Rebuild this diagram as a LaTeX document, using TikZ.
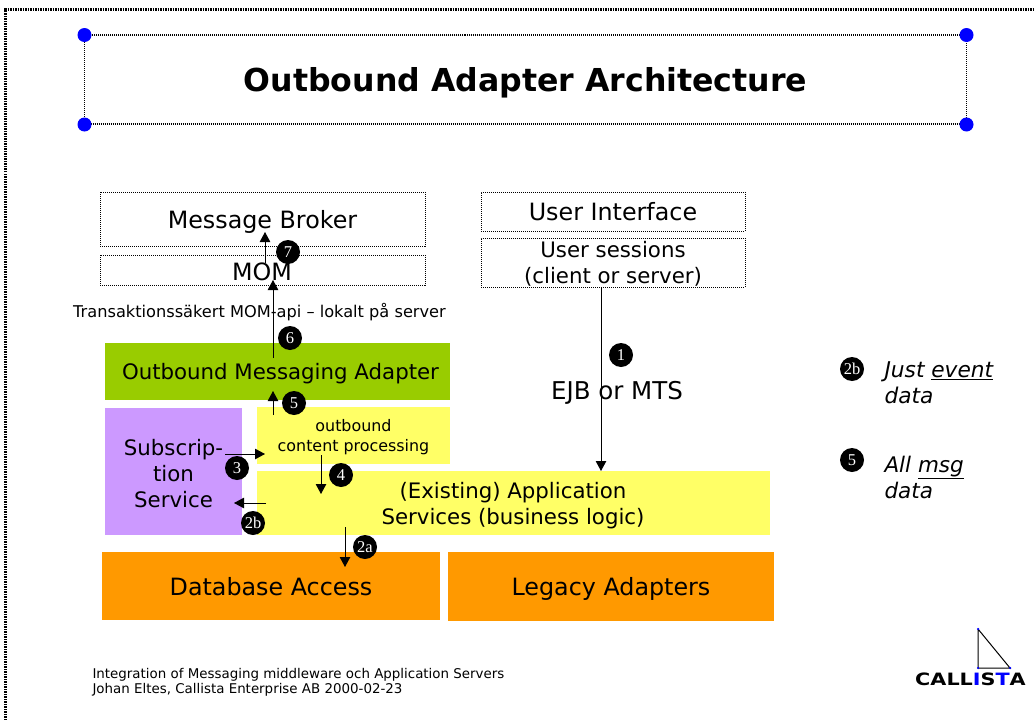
\documentclass[tikz,border=0pt]{standalone}
\usepackage{fontspec}
\setmainfont{DejaVu Sans}
\newfontfamily\numfont{Liberation Serif}
\usetikzlibrary{arrows.meta}
\usetikzlibrary{positioning}
\definecolor{frameblue}{RGB}{0,0,255}
\definecolor{adaptergreen}{RGB}{153,204,0}
\definecolor{subpurple}{RGB}{204,153,255}
\definecolor{appyellow}{RGB}{255,255,102}
\definecolor{dataorange}{RGB}{255,153,0}
\tikzset{flow/.style = {-{Triangle[length=10pt,width=10.5pt]}, line width=1pt}}
\tikzset{dotbox/.style = {draw, line width=1pt, dash pattern=on 1pt off 1pt, inner sep=0, outer sep=0, text depth=0pt}}
\tikzset{fillbox/.style = {inner sep=0, outer sep=0, text depth=0pt}}
\tikzset{bubble/.style = {circle, fill=black, text=white, inner sep=0, minimum size=24pt, font=\numfont\fontsize{16.5}{16.5}\selectfont}}
\tikzset{bluedot/.style = {circle, fill=frameblue, inner sep=0, minimum size=14pt}}
\tikzset{logodot/.style = {circle, fill=frameblue, inner sep=0, minimum size=2.5pt}}
\tikzset{big/.style = {font=\fontsize{23.8}{26}\selectfont}}
\tikzset{small/.style = {font=\fontsize{21.3}{26}\selectfont}}
\begin{document}
\begin{tikzpicture}[x=1pt, y=-1pt]
			\useasboundingbox (0,0) rectangle (1034,720);
			% frame and title
			\node (f0) at (5.5,720) {};
			\node (f1) at (5.5,9.5) {};
			\node (f2) at (1034,9.5) {};
			\draw [line width=3pt, dash pattern=on 1.5pt off 1pt] (f0.center) to (f1.center) to (f2.center);
			\node [dotbox, line width=1.3pt, minimum width=882, minimum height=89, font=\bfseries\fontsize{31.6}{32}\selectfont] (title) at (525.5,79.5) {Outbound Adapter Architecture};
			\node [bluedot] (t0) at (84.5,35) {};
			\node [bluedot] (t1) at (966.5,35) {};
			\node [bluedot] (t2) at (84.5,124.5) {};
			\node [bluedot] (t3) at (966.5,124.5) {};
			% dotted boxes
			\node [dotbox, big, minimum width=325, minimum height=54] (broker) at (262.5,219) {Message Broker};
			\node [dotbox, minimum width=325, minimum height=30] (mom) at (262.5,270) {};
			\node [big] (momtext) at (262,272) {MOM};
			\node [dotbox, big, minimum width=264, minimum height=39] (ui) at (613,211.5) {User Interface};
			\node [dotbox, small, minimum width=264, minimum height=49, align=center] (sessions) at (613,262.5) {User sessions\\(client or server)};
			\node [font=\fontsize{16.2}{16.2}\selectfont] (api) at (259.5,312) {Transaktionssäkert MOM-api -- lokalt på server};
			% filled boxes
			\node [fillbox, small, fill=adaptergreen, minimum width=345, minimum height=57] (adapter) at (277.5,371.5) {\phantom{i}Outbound Messaging Adapter};
			\node [fillbox, fill=subpurple, minimum width=137, minimum height=127] (subscr) at (173.5,471.5) {};
			\node [small, align=center] (subscrtext) at (173.5,473.5) {Subscrip-\\tion\\Service};
			\node [fillbox, fill=appyellow, minimum width=193, minimum height=57, align=center, font=\fontsize{15.9}{20}\selectfont] (content) at (353.5,435) {outbound\\content processing};
			\node [fillbox, fill=appyellow, minimum width=513, minimum height=64] (appbox) at (513.5,503) {};
			\node [small, align=center] (services) at (513,505.5) {(Existing) Application\\Services (business logic)};
			\node [fillbox, big, fill=dataorange, minimum width=338, minimum height=68] (dbase) at (271,586) {Database Access};
			\node [fillbox, big, fill=dataorange, minimum width=326, minimum height=69] (legacy) at (611,586.5) {Legacy Adapters};
			\node [font=\fontsize{24.5}{26}\selectfont] (ejb) at (617,393) {EJB or MTS};
			% arrows
			\node (a1) at (601,287) {};
			\node (b1) at (601,471) {};
			\node (a2a) at (345,527) {};
			\node (b2a) at (345,567) {};
			\node (a2b) at (266,503) {};
			\node (b2b) at (234,503) {};
			\node (a3) at (225,454) {};
			\node (b3) at (265,454) {};
			\node (a4) at (321,455) {};
			\node (b4) at (321,494) {};
			\node (a5) at (273,415) {};
			\node (b5) at (273,391) {};
			\node (a6) at (273,358) {};
			\node (b6) at (273,280) {};
			\node (a7) at (265,263) {};
			\node (b7) at (265,232) {};
			\draw [flow] (a1.center) to (b1.center);
			\draw [flow] (a2a.center) to (b2a.center);
			\draw [flow] (a2b.center) to (b2b.center);
			\draw [flow] (a3.center) to (b3.center);
			\draw [flow] (a4.center) to (b4.center);
			\draw [flow] (a5.center) to (b5.center);
			\draw [flow] (a6.center) to (b6.center);
			\draw [flow] (a7.center) to (b7.center);
			% numbers
			\node [bubble] (n1) at (621,355) {1};
			\node [bubble] (n2a) at (365,547) {2a};
			\node [bubble] (n2b) at (253,523) {2b};
			\node [bubble] (n3) at (237,468) {3};
			\node [bubble] (n4) at (341,475) {4};
			\node [bubble] (n5) at (294,403) {5};
			\node [bubble] (n6) at (290,338) {6};
			\node [bubble] (n7) at (288,252) {7};
			% legend
			\node [bubble] (k2b) at (852,369) {2b};
			\node [bubble] (k5) at (852,460) {5};
			\node [anchor=west, align=left, font=\itshape\fontsize{21.7}{26}\selectfont] (just) at (881,383) {Just \underline{event}\\data};
			\node [anchor=west, align=left, font=\itshape\fontsize{21.5}{26}\selectfont] (all) at (881,477) {All \underline{msg}\\data};
			% footer and logo
			\node [anchor=west, align=left, font=\fontsize{13.4}{15}\selectfont] (foot) at (89,682) {Integration of Messaging middleware och Application Servers\\Johan Eltes, Callista Enterprise AB 2000-02-23};
			\node (l0) at (978,629) {};
			\node (l1) at (978,668) {};
			\node (l2) at (1010,668) {};
			\draw [line width=1pt] (l0.center) to (l1.center) to (l2.center) to (l0.center);
			\node [logodot] (d0) at (l0) {};
			\node [logodot] (d1) at (l1) {};
			\node [logodot] (d2) at (l2) {};
			\node [transform shape, xscale=1.22, font=\bfseries\fontsize{17}{17}\selectfont] (logo) at (970.5,679.5) {CALL\textcolor{frameblue}{I}S\textcolor{frameblue}{T}A};
		\end{tikzpicture}
\end{document}
